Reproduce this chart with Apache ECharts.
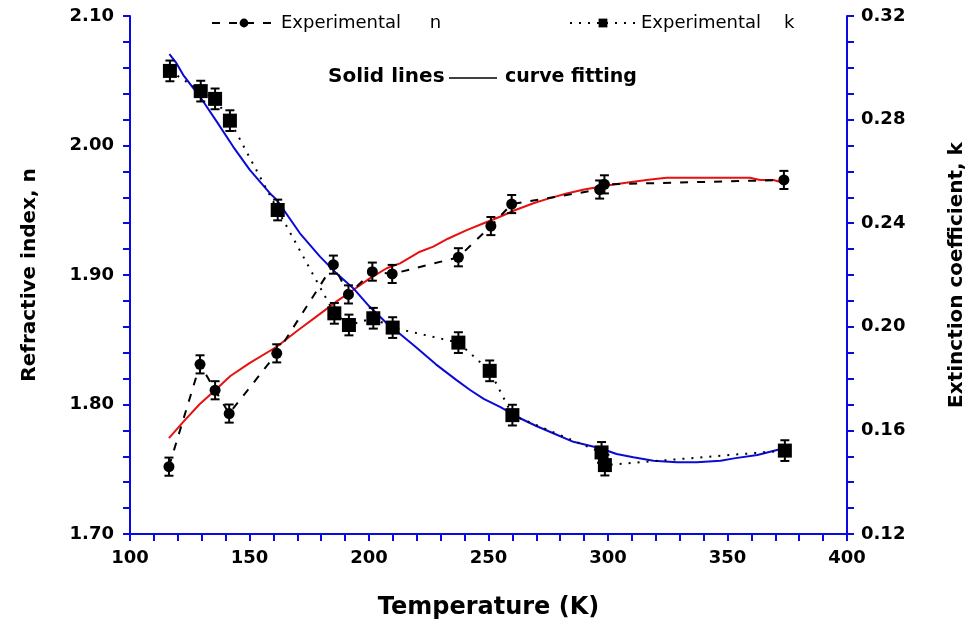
<!DOCTYPE html>
<html><head><meta charset="utf-8">
<script src="https://cdn.jsdelivr.net/npm/echarts@6/dist/echarts.min.js"></script>
<style>html,body{margin:0;padding:0;background:#fff}#c{width:976px;height:627px}</style>
</head><body><div id="c"></div>
<script>
// Experimental refractive index n
var nTemps = [116.3,129.3,135.6,141.5,161.4,185.1,191.4,201.4,209.7,237.4,251.0,259.7,296.5,298.5,373.6];
var nValues = [1.752,1.831,1.811,1.793,1.8395,1.908,1.885,1.9026,1.9008,1.9137,1.9378,1.9548,1.966,1.970,1.9734];
var nErr = [0.007,0.007,0.007,0.007,0.007,0.007,0.007,0.007,0.007,0.007,0.007,0.007,0.007,0.007,0.007];
// Experimental extinction coefficient k
var kTemps = [116.7,129.6,135.6,141.8,161.8,185.5,191.6,201.8,209.9,237.4,250.5,260.0,297.3,298.7,374.0];
var kValues = [0.2988,0.2910,0.2880,0.2796,0.2451,0.2052,0.2007,0.2033,0.1997,0.1939,0.1830,0.1659,0.1515,0.1466,0.1522];
var kErr = [0.004,0.004,0.004,0.004,0.004,0.004,0.004,0.004,0.004,0.004,0.004,0.004,0.004,0.004,0.004];
// Curve fitting of n (red)
var nFitT = [116.3,122,129,135.6,142,150,161.4,170,179.5,186,193.4,200,207.4,213,221.3,226.9,233,240.9,248,254.8,261,268.8,275,282.7,290,296.7,303,310.6,317,324.5,340,359.4,363.6,369.2,373.3];
var nFitV = [1.774,1.786,1.800,1.811,1.822,1.832,1.8446,1.857,1.870,1.879,1.8884,1.897,1.9052,1.909,1.918,1.9219,1.928,1.9347,1.940,1.945,1.950,1.9554,1.959,1.963,1.966,1.9682,1.970,1.972,1.9735,1.9751,1.9751,1.9751,1.9734,1.9734,1.9713];
// Curve fitting of k (blue)
var kFitT = [116.5,119.5,122.3,129.3,136.3,143.2,150.2,158.6,161.4,171.1,179.5,186,193.4,200,207.4,213,219.2,228,236.5,242.3,248,254.8,263.2,270,277.1,285.5,296.7,303.6,310.6,319,328.8,337.1,347.1,352.7,362.5,373.6];
var kFitV = [0.3053,0.3017,0.2972,0.2888,0.2792,0.2695,0.2605,0.2515,0.249,0.2361,0.2271,0.221,0.2149,0.208,0.2014,0.1972,0.1925,0.1855,0.1795,0.1756,0.1722,0.1691,0.1647,0.1617,0.1589,0.1556,0.1531,0.1509,0.1496,0.1483,0.1477,0.1477,0.1483,0.1492,0.1505,0.1531];
// Axis ticks
var xTicks = {min:100, max:400, step:50};
var nTicks = {min:1.70, max:2.10, step:0.10};
var kTicks = {min:0.12, max:0.32, step:0.04};
// Legend names
var nName = 'Experimental     n';
var kName = 'Experimental    k';

function pairs(a,b){return a.map(function(v,i){return [v,b[i]];});}
function errData(t,v,e){return t.map(function(x,i){return [x,v[i]-e[i],v[i]+e[i]];});}

var AX = '#0a0ae0';
var FONT = 'DejaVu Sans';
function errRender(cap){
  return function(params, api){
    var lo = api.coord([api.value(0), api.value(1)]);
    var hi = api.coord([api.value(0), api.value(2)]);
    var st = {stroke:'#000', lineWidth:2};
    return {type:'group', children:[
      {type:'line', shape:{x1:lo[0],y1:lo[1],x2:hi[0],y2:hi[1]}, style:st},
      {type:'line', shape:{x1:lo[0]-cap,y1:lo[1],x2:lo[0]+cap,y2:lo[1]}, style:st},
      {type:'line', shape:{x1:hi[0]-cap,y1:hi[1],x2:hi[0]+cap,y2:hi[1]}, style:st}
    ]};
  };
}

var chart = echarts.init(document.getElementById('c'), null, {renderer:'canvas'});
var tickLbl = {fontFamily:FONT, fontWeight:'bold', fontSize:18, color:'#000'};
var legTxt = {fontFamily:FONT, fontSize:18, color:'#000'};
chart.setOption({
  animation:false,
  backgroundColor:'#fff',
  grid:{left:130, right:129, top:16, bottom:93, containLabel:false},
  legend:[
    {left:206, top:9, itemWidth:64, itemHeight:11, textStyle:legTxt, data:[nName]},
    {left:564, top:9, itemWidth:66, itemHeight:11, textStyle:legTxt, data:[kName]}
  ],
  xAxis:{
    type:'value', min:xTicks.min, max:xTicks.max, interval:xTicks.step,
    name:'Temperature (K)', nameLocation:'middle', nameGap:62,
    nameTextStyle:{fontFamily:FONT, fontWeight:'bold', fontSize:24, color:'#000'},
    axisLine:{onZero:false, lineStyle:{color:AX, width:2}},
    axisTick:{length:7, lineStyle:{color:AX, width:2}},
    minorTick:{show:true, splitNumber:5, length:7, lineStyle:{color:AX, width:2}},
    splitLine:{show:false},
    axisLabel:Object.assign({margin:15, formatter:function(v){return String(v);}}, tickLbl)
  },
  yAxis:[{
    type:'value', position:'left', min:nTicks.min, max:nTicks.max, interval:nTicks.step,
    name:'Refractive index, n', nameLocation:'middle', nameGap:90,
    nameTextStyle:{fontFamily:FONT, fontWeight:'bold', fontSize:20, color:'#000'},
    axisLine:{show:true, onZero:false, lineStyle:{color:AX, width:2}},
    axisTick:{show:true, length:7, lineStyle:{color:AX, width:2}},
    minorTick:{show:true, splitNumber:5, length:7, lineStyle:{color:AX, width:2}},
    splitLine:{show:false},
    axisLabel:Object.assign({margin:16, formatter:function(v){return v.toFixed(2);}}, tickLbl)
  },{
    type:'value', position:'right', min:kTicks.min, max:kTicks.max, interval:kTicks.step,
    name:'Extinction coefficient, k', nameLocation:'middle', nameGap:100,
    nameRotate:90,
    nameTextStyle:{fontFamily:FONT, fontWeight:'bold', fontSize:20, color:'#000'},
    axisLine:{show:true, onZero:false, lineStyle:{color:AX, width:2}},
    axisTick:{show:true, length:7, lineStyle:{color:AX, width:2}},
    minorTick:{show:true, splitNumber:4, length:7, lineStyle:{color:AX, width:2}},
    splitLine:{show:false},
    axisLabel:Object.assign({margin:14, formatter:function(v){return v.toFixed(2);}}, tickLbl)
  }],
  graphic:[
    {type:'text', left:328, top:67, style:{text:'Solid lines', font:'bold 20px "DejaVu Sans"', fill:'#000'}},
    {type:'line', shape:{x1:449, y1:78, x2:497, y2:78}, style:{stroke:'#000', lineWidth:1.5}},
    {type:'text', left:505, top:68, style:{text:'curve fitting', font:'bold 19px "DejaVu Sans"', fill:'#000'}}
  ],
  series:[
    {name:'n fit', type:'line', yAxisIndex:0, data:pairs(nFitT,nFitV), showSymbol:false, symbol:'none',
     lineStyle:{color:'#e81010', width:2}, z:3},
    {name:'k fit', type:'line', yAxisIndex:1, data:pairs(kFitT,kFitV), showSymbol:false, symbol:'none',
     lineStyle:{color:'#0b0bd8', width:2}, z:3},
    {name:'n err', type:'custom', yAxisIndex:0, data:errData(nTemps,nValues,nErr), renderItem:errRender(4.5), z:4, encode:{x:0,y:[1,2]}},
    {name:'k err', type:'custom', yAxisIndex:1, data:errData(kTemps,kValues,kErr), renderItem:errRender(4.5), z:4, encode:{x:0,y:[1,2]}},
    {name:nName, type:'line', yAxisIndex:0, data:pairs(nTemps,nValues),
     symbol:'circle', symbolSize:11, itemStyle:{color:'#000'},
     lineStyle:{color:'#000', width:2, type:[8,9]}, z:5},
    {name:kName, type:'line', yAxisIndex:1, data:pairs(kTemps,kValues),
     symbol:'rect', symbolSize:14, itemStyle:{color:'#000'},
     lineStyle:{color:'#000', width:2, type:[2,7]}, z:5}
  ]
});
</script></body></html>
